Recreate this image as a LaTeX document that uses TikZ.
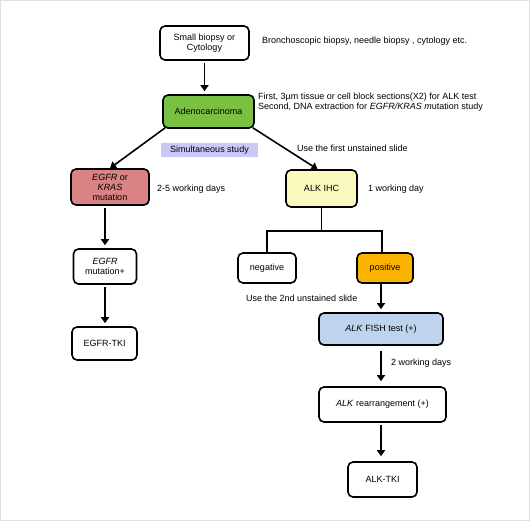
\documentclass[tikz,border=0pt]{standalone}
\usepackage{fontspec}
\setmainfont{Liberation Sans}
\usetikzlibrary{arrows.meta}
\definecolor{cgreen}{HTML}{7AC143}
\definecolor{csalmon}{HTML}{D98384}
\definecolor{clav}{HTML}{C9C9F7}
\definecolor{cyellow}{HTML}{FAFABE}
\definecolor{corange}{HTML}{FBB300}
\definecolor{cblue}{HTML}{BDD3EE}
\tikzset{
  box/.style={draw, rounded corners=5pt, line width=1.6pt, align=center, inner sep=0pt, fill=white,
    font=\fontsize{9}{10}\selectfont},
  lbl/.style={inner sep=0pt, anchor=west, font=\fontsize{9}{10.5}\selectfont},
  arr/.style={line width=1.6pt, -{Triangle[length=6pt,width=8pt]}, shorten <=2pt, shorten >=3pt},
  ln/.style={line width=1.6pt}
}
\begin{document}
\begin{tikzpicture}[x=1pt,y=-1pt]
\useasboundingbox (0,0) rectangle (530,521);
\draw[black!12] (0.5,0.5) rectangle (529.5,520.5);

\node[box, minimum width=89pt, minimum height=34pt] (sb) at (204.5,43) {Small biopsy or\\Cytology};
\node[box, fill=cgreen, minimum width=91pt, minimum height=33pt] (adeno) at (208.5,111.5) {Adenocarcinoma};
\node[box, fill=csalmon, minimum width=78pt, minimum height=36pt] (egfr) at (110,187) {\textit{EGFR} or\\\textit{KRAS}\\mutation};
\node[box, minimum width=63pt, minimum height=35pt] (egfrm) at (105,266.5) {\textit{EGFR}\\mutation+};
\node[box, minimum width=65pt, minimum height=33pt] (egfrtki) at (104.5,343.5) {EGFR-TKI};
\node[box, fill=cyellow, minimum width=71pt, minimum height=37pt] (alk) at (321.5,188.5) {ALK IHC};
\node[box, minimum width=58pt, minimum height=30pt] (neg) at (267,268) {negative};
\node[box, fill=corange, minimum width=56pt, minimum height=30pt] (pos) at (385,268) {positive};
\node[box, fill=cblue, minimum width=124pt, minimum height=32pt] (fish) at (381,329) {\textit{ALK} FISH test (+)};
\node[box, minimum width=127pt, minimum height=35pt] (rear) at (382.5,404.5) {\textit{ALK} rearrangement (+)};
\node[box, minimum width=69pt, minimum height=35pt] (tki) at (382.5,479.5) {ALK-TKI};

\node[fill=clav, minimum width=97pt, minimum height=14pt, inner sep=0pt, font=\fontsize{9}{10}\selectfont] (sim) at (209.5,150) {Simultaneous study};

\node[lbl] (t1) at (262,41) {Bronchoscopic biopsy, needle biopsy , cytology etc.};
\node[lbl, align=left] (t2) at (258,102) {First, 3µm tissue or cell block sections(X2) for ALK test\\Second, DNA extraction for \textit{EGFR/KRAS m}utation study};
\node[lbl] (t3) at (297,148) {Use the first unstained slide};
\node[lbl] (t4) at (157,189) {2-5 working days};
\node[lbl] (t5) at (368,189) {1 working day};
\node[lbl] (t6) at (246,298) {Use the 2nd unstained slide};
\node[lbl] (t7) at (391,363) {2 working days};

\draw[arr] (sb.south) -- (sb.south |- adeno.north);
\draw[arr, shorten <=0pt, shorten >=0pt] ([xshift=3pt,yshift=1pt]adeno.south west) -- (egfr.north);
\draw[arr, shorten <=0pt, shorten >=0pt] ([xshift=-2pt,yshift=1pt]adeno.south east) -- ([xshift=-4pt]alk.north);
\draw[arr] (egfr.south -| egfrm.north) -- (egfrm.north);
\draw[arr] (egfrm.south) -- (egfrm.south |- egfrtki.north);

\draw[ln] (alk.south) -- (alk.south |- 0,231) coordinate (jn);
\draw[ln] (neg.north) |- (jn);
\draw[ln] (jn) -| ([xshift=-3pt]pos.north);
\draw[arr, shorten <=0pt] (fish.north |- pos.south) -- (fish.north);
\draw[arr, shorten <=5pt, shorten >=5pt] (fish.south) -- (fish.south |- rear.north);
\draw[arr, shorten <=2pt, shorten >=5pt] (rear.south -| fish.south) -- (fish.south |- tki.north);
\end{tikzpicture}
\end{document}
